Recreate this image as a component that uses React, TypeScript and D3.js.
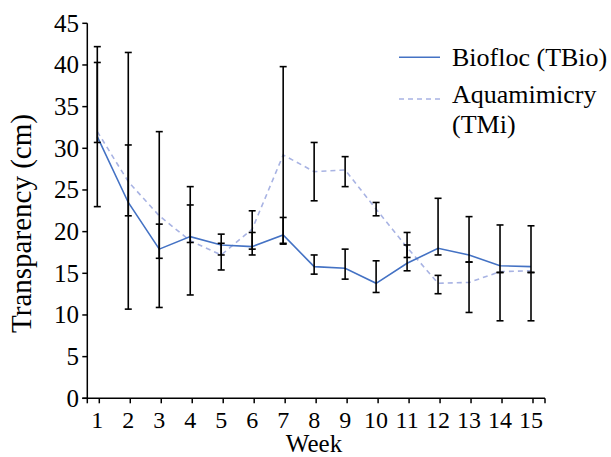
import React from "react";
import * as d3 from "d3";

const weeks = [1, 2, 3, 4, 5, 6, 7, 8, 9, 10, 11, 12, 13, 14, 15];
const yTicks = [0, 5, 10, 15, 20, 25, 30, 35, 40, 45];

const biofloc = [31.4, 23.5, 17.9, 19.4, 18.4, 18.2, 19.6, 15.8, 15.6, 13.8, 16.2, 18.0, 17.2, 15.9, 15.8];
const bioLow = [30.7, 21.9, 10.9, 12.4, 17.2, 17.2, 18.5, 14.9, 14.3, 12.7, 15.3, 17.2, 16.35, 15.1, 15.1];
const bioHigh = [42.2, 30.4, 20.9, 23.2, 19.7, 19.9, 21.7, 17.2, 17.9, 16.5, 18.4, 24.0, 21.8, 20.8, 20.7];

const aqua = [32.0, 26.0, 21.9, 18.9, 17.2, 20.3, 29.2, 27.2, 27.4, 22.7, 18.1, 13.8, 13.9, 15.2, 15.3];
const aquaLow = [23.0, 10.7, 16.8, 18.7, 15.4, 17.9, 18.6, 23.7, 25.4, 21.9, 16.9, 12.55, 10.3, 9.3, 9.3];
const aquaHigh = [40.3, 41.5, 32.0, 25.4, 18.6, 22.5, 39.8, 30.7, 29.0, 23.5, 19.9, 14.75, 16.35, 15.1, 15.1];

const seriesNames = ["Biofloc (TBio)", "Aquamimicry", "(TMi)"];

const W = 611;
const H = 457;
const FONT = "Liberation Serif, Times New Roman, serif";

export default function App() {
  const x = d3.scaleLinear().domain([1, 15]).range([97.3, 531]);
  const y = d3.scaleLinear().domain([0, 45]).range([398.3, 23.3]);
  const axisX0 = 87.3;
  const axisX1 = 545;
  const yBase = y(0);

  const line = d3
    .line<number>()
    .x((_, i) => x(weeks[i]))
    .y((d) => y(d));

  const capW = 3.5;

  const errBars = (low: number[], high: number[], key: string) =>
    weeks.map((w, i) => (
      <g key={key + i} stroke="#000" strokeWidth={1.6}>
        <line x1={x(w)} x2={x(w)} y1={y(low[i])} y2={y(high[i])} />
        <line x1={x(w) - capW} x2={x(w) + capW} y1={y(low[i])} y2={y(low[i])} />
        <line x1={x(w) - capW} x2={x(w) + capW} y1={y(high[i])} y2={y(high[i])} />
      </g>
    ));

  return (
    <svg
      width={W}
      height={H}
      style={{ position: "absolute", left: 0, top: 0, background: "#fff", fontFamily: FONT }}
    >
      <path d={line(aqua) || ""} fill="none" stroke="#a8b3e3" strokeWidth={1.6} strokeDasharray="5,4" />
      <path d={line(biofloc) || ""} fill="none" stroke="#4472c4" strokeWidth={1.6} />

      {errBars(bioLow, bioHigh, "b")}
      {errBars(aquaLow, aquaHigh, "a")}

      <line x1={axisX0} x2={axisX0} y1={y(45)} y2={yBase} stroke="#000" strokeWidth={1.5} />
      {yTicks.map((t) => (
        <g key={"yt" + t}>
          <line x1={axisX0 - 5} x2={axisX0} y1={y(t)} y2={y(t)} stroke="#000" strokeWidth={1.5} />
          <text x={79} y={y(t)} dy="0.34em" textAnchor="end" fontSize={25}>
            {t}
          </text>
        </g>
      ))}

      <line x1={axisX0 - 5} x2={axisX1} y1={yBase} y2={yBase} stroke="#000" strokeWidth={1.5} />
      <line x1={axisX0} x2={axisX0} y1={yBase} y2={yBase + 5} stroke="#000" strokeWidth={1.5} />
      <line x1={axisX1} x2={axisX1} y1={yBase} y2={yBase + 5} stroke="#000" strokeWidth={1.5} />
      {weeks.map((w) => (
        <g key={"xt" + w}>
          <line x1={x(w) + 2} x2={x(w) + 2} y1={yBase} y2={yBase + 5} stroke="#000" strokeWidth={1.5} />
          <text x={x(w)} y={428} textAnchor="middle" fontSize={24}>
            {w}
          </text>
        </g>
      ))}

      <text x={314} y={452} textAnchor="middle" fontSize={25}>
        Week
      </text>
      <text transform={`translate(31, 223.5) rotate(-90)`} textAnchor="middle" fontSize={29}>
        Transparency (cm)
      </text>

      <line x1={399} x2={440} y1={57.3} y2={57.3} stroke="#4472c4" strokeWidth={1.6} />
      <line x1={399} x2={440} y1={99} y2={99} stroke="#a8b3e3" strokeWidth={1.6} strokeDasharray="5,4" />
      <text x={452} y={65.5} fontSize={26}>
        {seriesNames[0]}
      </text>
      <text x={452} y={102.5} fontSize={26}>
        {seriesNames[1]}
      </text>
      <text x={452} y={132.5} fontSize={26}>
        {seriesNames[2]}
      </text>
    </svg>
  );
}
